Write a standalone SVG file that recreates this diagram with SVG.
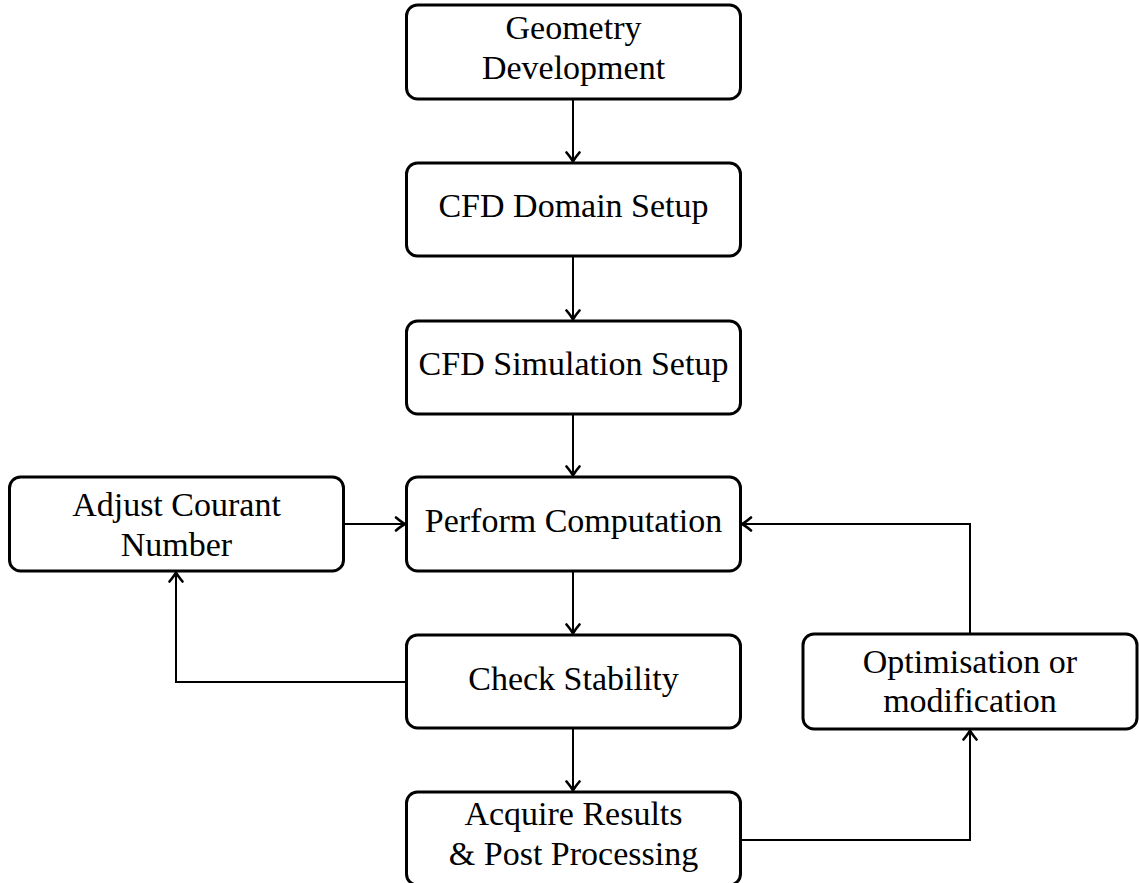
<svg xmlns="http://www.w3.org/2000/svg" width="1139" height="883" viewBox="0 0 1139 883">
<defs>
<style>
.box{fill:#fff;stroke:#000;stroke-width:3}
.lbl{font-family:"Liberation Serif","Times New Roman",serif;font-size:34px;fill:#000;text-anchor:middle}
.edge{fill:none;stroke:#000;stroke-width:2}
</style>
<marker id="arr" viewBox="-12 -8 14 16" refX="0" refY="0" markerWidth="14" markerHeight="16" markerUnits="userSpaceOnUse" orient="auto">
<path d="M-9,-6.5 Q-3,-1.5 0,0 Q-3,1.5 -9,6.5" fill="none" stroke="#000" stroke-width="2.6" stroke-linecap="round" stroke-linejoin="round"/>
</marker>
</defs>
<rect width="1139" height="883" fill="#fff"/>
<g id="connectors">
<path class="edge" d="M573,99 V161.5" marker-end="url(#arr)"/>
<path class="edge" d="M573,256 V319.5" marker-end="url(#arr)"/>
<path class="edge" d="M573,414 V475.5" marker-end="url(#arr)"/>
<path class="edge" d="M573,571 V633.5" marker-end="url(#arr)"/>
<path class="edge" d="M573,728 V790.5" marker-end="url(#arr)"/>
<path class="edge" d="M343,524 H405" marker-end="url(#arr)"/>
<path class="edge" d="M406,682 H176 V572.5" marker-end="url(#arr)"/>
<path class="edge" d="M740,840 H970 V730.5" marker-end="url(#arr)"/>
<path class="edge" d="M970,634 V524 H742" marker-end="url(#arr)"/>
</g>
<g id="n1"><rect class="box" x="406.5" y="5" width="334" height="94" rx="11"/>
<text class="lbl" x="573.5" y="39">Geometry</text><text class="lbl" x="573.5" y="79">Development</text></g>
<g id="n2"><rect class="box" x="406.5" y="163" width="334" height="93" rx="11"/>
<text class="lbl" x="573.5" y="217">CFD Domain Setup</text></g>
<g id="n3"><rect class="box" x="406.5" y="321" width="334" height="93" rx="11"/>
<text class="lbl" x="573.5" y="375">CFD Simulation Setup</text></g>
<g id="n4"><rect class="box" x="406.5" y="477" width="334" height="94" rx="11"/>
<text class="lbl" x="573.5" y="532">Perform Computation</text></g>
<g id="n5"><rect class="box" x="406.5" y="635" width="334" height="93" rx="11"/>
<text class="lbl" x="573.5" y="690">Check Stability</text></g>
<g id="n6"><rect class="box" x="406.5" y="792" width="334" height="93" rx="11"/>
<text class="lbl" x="573.5" y="825">Acquire Results</text><text class="lbl" x="573.5" y="865">&amp; Post Processing</text></g>
<g id="n7"><rect class="box" x="9.5" y="477" width="334" height="94" rx="11"/>
<text class="lbl" x="176.5" y="516">Adjust Courant</text><text class="lbl" x="176.5" y="556">Number</text></g>
<g id="n8"><rect class="box" x="803" y="634" width="334" height="95" rx="11"/>
<text class="lbl" x="970" y="673">Optimisation or</text><text class="lbl" x="970" y="712">modification</text></g>
</svg>
